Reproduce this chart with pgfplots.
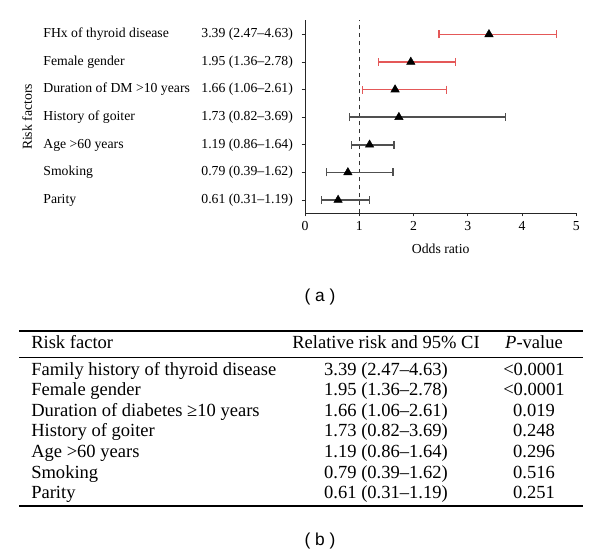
\documentclass[border=0pt]{standalone}
\usepackage{pgfplots}
\pgfplotsset{compat=1.18}
\usepackage{pgfplotstable}
\usepackage{fontspec}
\setmainfont{Liberation Serif}
\newfontfamily\capfont{Liberation Sans}
\definecolor{errred}{RGB}{228,88,88}
\definecolor{errgray}{RGB}{80,80,80}

% odds ratio, lower, upper, row (7 = top)
\pgfplotstableread{
or   lo   hi   row
3.39 2.47 4.63 7
1.95 1.36 2.78 6
1.66 1.06 2.61 5
}\sigrows
\pgfplotstableread{
or   lo   hi   row
1.73 0.82 3.69 4
1.19 0.86 1.64 3
0.79 0.39 1.62 2
0.61 0.31 1.19 1
}\nsrows

\newcommand{\rl}[2]{\makebox[118.5pt][l]{#1}#2}

\begin{document}
\begin{tikzpicture}[x=0.75pt,y=0.75pt]
\useasboundingbox (0,0) rectangle (600,-557);

\begin{axis}[
  at={(228.75pt,-159.75pt)}, anchor=south west,
  width=203.5pt, height=144.75pt, scale only axis,
  xmin=0, xmax=5, ymin=0.53, ymax=7.52,
  axis lines=left, axis line style={-, black!85, line width=0.7pt},
  tick align=outside, major tick length=2.5pt,
  tick style={black!85, line width=0.6pt},
  xtick={0,1,2,3,4,5},
  ytick={1,2,3,4,5,6,7},
  yticklabels={
    \rl{Parity}{0.61 (0.31--1.19)},
    \rl{Smoking}{0.79 (0.39--1.62)},
    \rl{Age >60 years}{1.19 (0.86--1.64)},
    \rl{History of goiter}{1.73 (0.82--3.69)},
    \rl{Duration of DM >10 years}{1.66 (1.06--2.61)},
    \rl{Female gender}{1.95 (1.36--2.78)},
    \rl{FHx of thyroid disease}{3.39 (2.47--4.63)}
  },
  ticklabel style={font=\fontsize{10.3}{12}\selectfont},
  yticklabel style={anchor=east, xshift=-3pt},
  /pgf/number format/assume math mode=true,
  xlabel={Odds ratio},
  xlabel style={font=\fontsize{10.3}{12}\selectfont, yshift=-3.5pt},
  clip=false,
]
\addplot[black!80, dashed, line width=0.8pt] coordinates {(1,0.53) (1,7.52)};
\addplot[only marks, mark=triangle*, mark size=3.6pt, mark options={black},
  error bars/.cd, x dir=both, x explicit, error mark=|,
  error bar style={errred, line width=1.2pt},
  error mark options={errred, mark size=3pt, line width=0.9pt, rotate=0}]
  table[x=or, y=row, x error plus expr=\thisrow{hi}-\thisrow{or},
        x error minus expr=\thisrow{or}-\thisrow{lo}] {\sigrows};
\addplot[only marks, mark=triangle*, mark size=3.6pt, mark options={black},
  error bars/.cd, x dir=both, x explicit, error mark=|,
  error bar style={errgray, line width=1.2pt},
  error mark options={errgray, mark size=3pt, line width=0.9pt, rotate=0}]
  table[x=or, y=row, x error plus expr=\thisrow{hi}-\thisrow{or},
        x error minus expr=\thisrow{or}-\thisrow{lo}] {\nsrows};
\end{axis}

\node[rotate=90, font=\fontsize{10.3}{12}\selectfont] at (27,-117) {Risk factors};
\node[font=\capfont\fontsize{13}{15}\selectfont] at (320,-297) {( a )};
\node[font=\capfont\fontsize{13}{15}\selectfont] at (320,-541) {( b )};

% table (b)
\draw[line width=1pt] (19,-331) -- (583,-331);
\draw[line width=0.8pt] (19,-357.5) -- (583,-357.5);
\draw[line width=1pt] (19,-506) -- (583,-506);
\begin{scope}[every node/.style={font=\fontsize{13.9}{15}\selectfont, inner sep=0pt}]
\node[anchor=base west] at (31,-348) {Risk factor};
\node[anchor=base] at (386,-348) {Relative risk and 95\% CI};
\node[anchor=base] at (534,-348) {\textit{P}-value};
\foreach \lab/\val/\p [count=\i from 0] in {
  Family history of thyroid disease/3.39 (2.47--4.63)/<0.0001,
  Female gender/1.95 (1.36--2.78)/<0.0001,
  Duration of diabetes ≥10 years/1.66 (1.06--2.61)/0.019,
  History of goiter/1.73 (0.82--3.69)/0.248,
  Age >60 years/1.19 (0.86--1.64)/0.296,
  Smoking/0.79 (0.39--1.62)/0.516,
  Parity/0.61 (0.31--1.19)/0.251}{
  \node[anchor=base west] at (31,-375-20.6*\i) {\lab};
  \node[anchor=base] at (386,-375-20.6*\i) {\val};
  \node[anchor=base] at (534,-375-20.6*\i) {\p};
}
\end{scope}
\end{tikzpicture}
\end{document}
